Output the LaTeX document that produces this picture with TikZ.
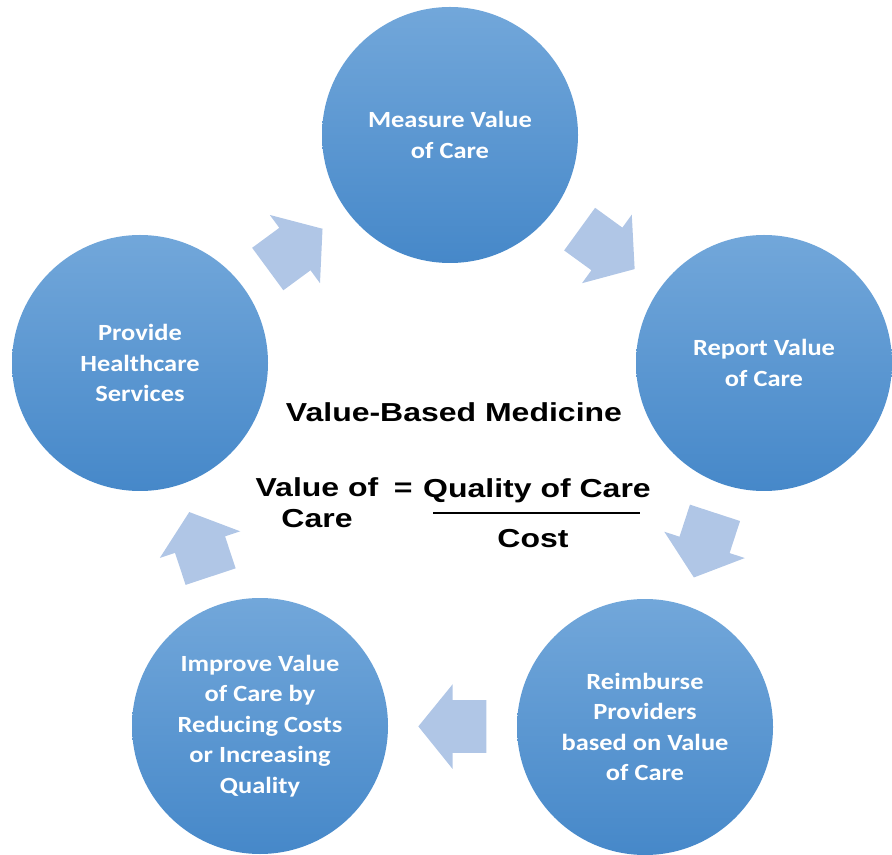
\documentclass[tikz,border=0pt]{standalone}
\usepackage{fontspec}
\setmainfont{Carlito}
\newfontfamily\stagefont{Carlito}[FakeStretch=1.14]
\newfontfamily\mainfont{Liberation Sans}[FakeStretch=1.23]
\usetikzlibrary{calc}
\usetikzlibrary{shapes.arrows}
\definecolor{ctop}{RGB}{114, 167, 218}
\definecolor{cbot}{RGB}{70, 136, 201}
\definecolor{ablue}{RGB}{176, 198, 230}
\tikzset{stage/.style = {circle, inner sep = 0, minimum size = 5.12cm, top color = ctop, bottom color = cbot, text = white, align = center, font = \stagefont\bfseries\fontsize{13.2}{17.3}\selectfont}}
\tikzset{flow/.style = {single arrow, fill = ablue, inner xsep = 0, inner ysep = 0.52cm, minimum height = 1.36cm, single arrow head extend = 0.32cm, single arrow tip angle = 102, sloped, allow upside down, xshift = -0.21cm}}
\tikzset{eqtext/.style = {anchor = base, inner sep = 0, font = \mainfont\bfseries\fontsize{14.8}{18}\selectfont}}

\begin{document}
\begin{tikzpicture}
    \useasboundingbox (0, 0) rectangle (17.84, -17.1);

    \node [stage] (measure) at (9.0, -2.7) {Measure Value\\of Care};
    \node [stage] (report) at (15.28, -7.26) {Report Value\\of Care};
    \node [stage] (reimburse) at (12.9, -14.54) {Reimburse\\Providers\\based on Value\\of Care};
    \node [stage] (improve) at (5.2, -14.52) {Improve Value\\of Care by\\Reducing Costs\\or Increasing\\Quality};
    \node [stage] (provide) at (2.8, -7.26) {Provide\\Healthcare\\Services};

    \path (provide) -- node [flow] (f1) {} (measure);
    \path (measure) -- node [flow] (f2) {} (report);
    \path (report) -- node [flow] (f3) {} (reimburse);
    \path (reimburse) -- node [flow] (f4) {} (improve);
    \path (improve) -- node [flow] (f5) {} (provide);

    \node [eqtext] (title) at (9.08, -8.44) {Value-Based Medicine};
    \node [eqtext] (valof) at (6.34, -9.94) {Value of};
    \node [eqtext] (care) at (6.34, -10.56) {Care};
    \node [eqtext, anchor = base east] (eq) at (8.26, -9.94) {=};
    \node [eqtext] (qual) at (10.74, -9.96) {Quality of Care};
    \node [eqtext] (cost) at (10.66, -10.94) {Cost};
    \draw [line width = 1.4pt] ($(qual.base) + (-2.08, -0.3)$) -- ($(qual.base) + (2.06, -0.3)$);
  \end{tikzpicture}
\end{document}
